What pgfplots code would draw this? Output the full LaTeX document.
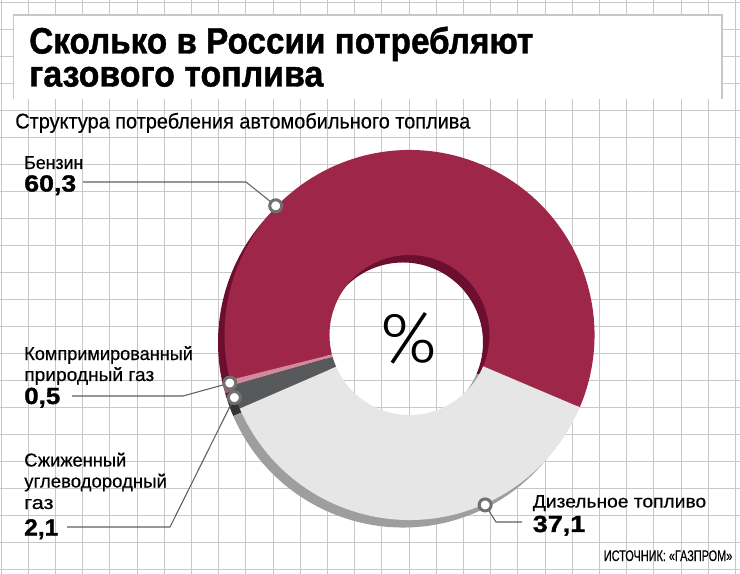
\documentclass[border=0pt]{standalone}
\usepackage{pgfplots}
\pgfplotsset{compat=1.18}
\usepackage{pgfplotstable}
\usepackage{graphicx}
\usepackage{fontspec}
\setmainfont{Liberation Sans}[FakeBold=0.4, BoldFeatures={FakeBold=1.2}]
\newfontfamily\thinfont{Fira Sans Light}

\definecolor{benzin}{HTML}{9E2649}
\definecolor{benzinD}{HTML}{6C0E2F}
\definecolor{cng}{HTML}{D48A9E}
\definecolor{cngD}{HTML}{A85A70}
\definecolor{sug}{HTML}{58595B}
\definecolor{sugD}{HTML}{333335}
\definecolor{diesel}{HTML}{E6E6E7}
\definecolor{dieselD}{HTML}{9D9EA0}
\definecolor{gridc}{HTML}{C8C8C8}
\definecolor{lead}{HTML}{5F5F5F}
\definecolor{dotc}{HTML}{707070}

% shares, %: petrol, CNG, LPG, diesel
\pgfplotstableread{
share
60.3
0.5
2.1
37.1
}\shares
\pgfplotstablegetelem{0}{share}\of\shares \let\sA\pgfplotsretval
\pgfplotstablegetelem{1}{share}\of\shares \let\sB\pgfplotsretval
\pgfplotstablegetelem{2}{share}\of\shares \let\sC\pgfplotsretval
\pgfplotstablegetelem{3}{share}\of\shares \let\sD\pgfplotsretval
\pgfmathsetmacro\aO{-23}
\pgfmathsetmacro\aA{\aO+3.6*\sA}
\pgfmathsetmacro\aB{\aA+3.6*\sB}
\pgfmathsetmacro\aC{\aB+3.6*\sC}
\pgfmathsetmacro\aD{\aC+3.6*\sD}
\pgfmathsetmacro\mB{(\aA+\aB)/2}
\pgfmathsetmacro\mC{(\aB+\aC)/2}

% 1px = 0.75pt; outer radius 185px, inner 80px
\newcommand\annulus[5]{%
  \fill[#3] ([shift={(#1:138.75pt)}]axis cs:#4,#5) arc[start angle=#1, end angle=#2, radius=138.75pt]
    -- ([shift={(#2:60pt)}]axis cs:#4,#5) arc[start angle=#2, end angle=#1, radius=60pt] -- cycle;}
\newcommand\dotat[1]{%
  \draw[dotc, line width=2.25pt, fill=white] ([shift={(#1:139.5pt)}]axis cs:409.5,335) circle[radius=4.5pt];}
\newcommand\lab[5]{% x, y(baseline), size, width, text
  \node[anchor=base west, inner sep=0pt] at (axis cs:#1,#2)
    {\fontsize{#3}{#3}\selectfont\resizebox{#4pt}{\height}{#5}};}

\begin{document}
\begin{tikzpicture}
\begin{axis}[
  scale only axis, width=555pt, height=430.5pt,
  xmin=0, xmax=740, ymin=0, ymax=574, y dir=reverse,
  axis line style={draw=none}, tick style={draw=none},
  xtick={1.1,28.3,...,737}, ytick={2.7,29.7,...,572},
  xticklabels={}, yticklabels={},
  grid=major, major grid style={gridc, line width=0.8pt},
  clip=false,
]
% title box
\fill[white] (axis cs:13.3,15) rectangle (axis cs:721.7,99);
\draw[gridc, line width=1.2pt] (axis cs:13.3,99) -- (axis cs:13.3,15) -- (axis cs:721.7,15) -- (axis cs:721.7,99);

% back layer (shadow)
\annulus{\aO}{\aA}{benzinD}{403}{342.5}
\annulus{\aA}{\aB}{cngD}{403}{342.5}
\annulus{\aB}{\aC}{sugD}{403}{342.5}
\annulus{\aC}{\aD}{dieselD}{403}{342.5}
% front face
\annulus{\aO}{\aA}{benzin}{409.5}{335}
\annulus{\aA}{\aB}{cng}{409.5}{335}
\annulus{\aB}{\aC}{sug}{409.5}{335}
\annulus{\aC}{\aD}{diesel}{409.5}{335}

% leaders
\draw[lead, line width=0.8pt] (axis cs:83,182) -- (axis cs:246,182) -- ([shift={(136:139.5pt)}]axis cs:409.5,335);
\draw[lead, line width=0.8pt] (axis cs:72,396) -- (axis cs:183,396) -- ([shift={(\mB:139.5pt)}]axis cs:409.5,335);
\draw[lead, line width=0.8pt] (axis cs:67,527) -- (axis cs:170,527) -- ([shift={(\mC:139.5pt)}]axis cs:409.5,335);
\draw[lead, line width=0.8pt] ([shift={(-66:139.5pt)}]axis cs:409.5,335) -- (axis cs:496,522) -- (axis cs:522,522);
\dotat{136}
\dotat{\mB}
\dotat{\mC}
\dotat{-66}

% texts
\lab{29}{53.5}{27.5}{378}{\bfseries Сколько в России потребляют}
\lab{29}{86.5}{27.5}{220.5}{\bfseries газового топлива}
\lab{15}{128.5}{16}{341.25}{Структура потребления автомобильного топлива}
\lab{24}{169}{14}{44.25}{Бензин}
\lab{24}{191.5}{17.5}{39}{\bfseries 60,3}
\lab{24}{360}{14}{126.5}{Компримированный}
\lab{24}{381}{14}{97.5}{природный газ}
\lab{24}{404}{17.5}{27}{\bfseries 0,5}
\lab{24}{466.5}{14}{76.5}{Сжиженный}
\lab{24}{487.5}{14}{107}{углеводородный}
\lab{24}{509}{14}{22}{газ}
\lab{24}{535.5}{17.5}{25.5}{\bfseries 2,1}
\lab{532.6}{507.5}{13.5}{130}{Дизельное топливо}
\lab{532.5}{532}{17.5}{39.4}{\bfseries 37,1}
\lab{603.6}{561}{11.5}{96.3}{ИСТОЧНИК: «ГАЗПРОМ»}
\node[inner sep=0pt] at (axis cs:408.5,338) {\resizebox{42.75pt}{37.5pt}{\thinfont\fontsize{40}{40}\selectfont\%}};
\end{axis}
\pgfresetboundingbox
\path (current axis.south west) rectangle (current axis.north east);
\end{tikzpicture}
\end{document}
